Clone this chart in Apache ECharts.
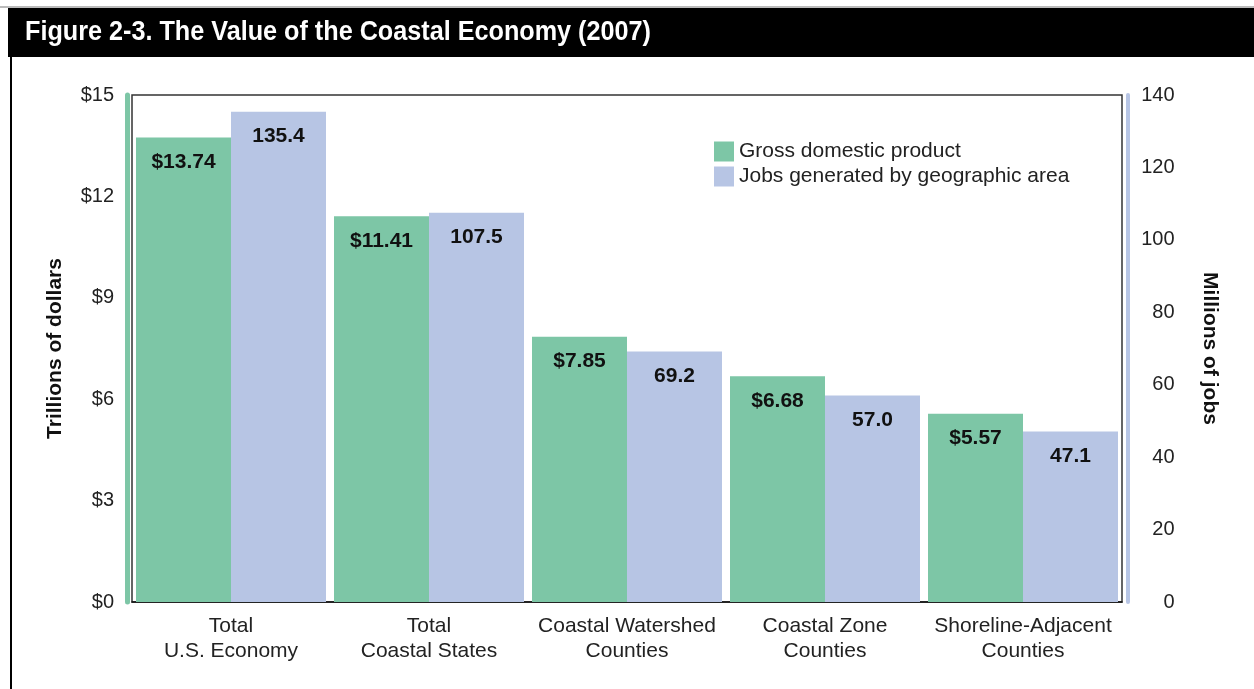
<!DOCTYPE html>
<html>
<head>
<meta charset="utf-8">
<script src="https://cdn.jsdelivr.net/npm/echarts@6/dist/echarts.min.js"></script>
<style>
html,body{margin:0;padding:0;background:#fff;}
#chart{width:1254px;height:689px;}
</style>
</head>
<body>
<div id="chart"></div>
<script>
const titleText = 'Figure 2-3. The Value of the Coastal Economy (2007)';
const categories = ['Total\nU.S. Economy', 'Total\nCoastal States', 'Coastal Watershed\nCounties', 'Coastal Zone\nCounties', 'Shoreline-Adjacent\nCounties'];
const gdpValues = [13.74, 11.41, 7.85, 6.68, 5.57];
const jobsValues = [135.4, 107.5, 69.2, 57.0, 47.1];
const gdpName = 'Gross domestic product';
const jobsName = 'Jobs generated by geographic area';
const leftAxisName = 'Trillions of dollars';
const rightAxisName = 'Millions of jobs';

const FONT = 'Liberation Sans, Arial, sans-serif';
const chart = echarts.init(document.getElementById('chart'));
chart.setOption({
  animation: false,
  textStyle: { fontFamily: FONT },
  graphic: [
    { type: 'rect', shape: { x: 0, y: 6, width: 1254, height: 2 }, style: { fill: '#bbb' } },
    { type: 'rect', shape: { x: 8, y: 8, width: 1246, height: 49 }, style: { fill: '#000' } },
    { type: 'rect', shape: { x: 10, y: 57, width: 2, height: 632 }, style: { fill: '#000' } },
    { type: 'text', x: 25, y: 18, scaleX: 0.9, style: { text: titleText, fill: '#fff', font: 'bold 28px "Liberation Sans", Arial, sans-serif' } }
  ],
  legend: {
    left: 709, top: 136, orient: 'vertical', itemWidth: 20, itemHeight: 20, itemGap: 4, icon: 'rect',
    textStyle: { fontSize: 21, color: '#222', fontFamily: FONT },
    data: [gdpName, jobsName]
  },
  grid: { left: 132, right: 132, top: 95, bottom: 87, show: true, borderColor: '#333', borderWidth: 1.5 },
  xAxis: {
    type: 'category', data: categories,
    axisLine: { lineStyle: { color: '#111', width: 1.5 } },
    axisTick: { show: false },
    axisLabel: { fontSize: 21, color: '#222', lineHeight: 25, margin: 12, interval: 0 }
  },
  yAxis: [
    {
      type: 'value', min: 0, max: 15, interval: 3,
      name: leftAxisName, nameLocation: 'middle', nameRotate: 90, nameGap: 62,
      nameTextStyle: { fontSize: 21, fontWeight: 'bold', color: '#111' },
      axisLine: { show: true, lineStyle: { color: '#7DC6A6', width: 5 } }, offset: 4.5,
      axisTick: { show: false }, splitLine: { show: false },
      axisLabel: { formatter: v => '$' + v, fontSize: 20, color: '#222', margin: 13.5 }
    },
    {
      type: 'value', min: 0, max: 140, interval: 20, position: 'right',
      name: rightAxisName, nameLocation: 'middle', nameRotate: -90, nameGap: 72,
      nameTextStyle: { fontSize: 21, fontWeight: 'bold', color: '#111' },
      axisLine: { show: true, lineStyle: { color: '#B7C5E4', width: 4 } }, offset: 5.5,
      axisTick: { show: false }, splitLine: { show: false },
      axisLabel: { fontSize: 20, color: '#222', margin: 47, align: 'right' }
    }
  ],
  series: [
    {
      name: gdpName, type: 'bar', yAxisIndex: 0, data: gdpValues, barWidth: 95, barGap: '0%',
      itemStyle: { color: '#7DC6A6' },
      label: { show: true, position: 'insideTop', distance: 14, formatter: p => '$' + p.value.toFixed(2), fontSize: 21, fontWeight: 'bold', color: '#111' }
    },
    {
      name: jobsName, type: 'bar', yAxisIndex: 1, data: jobsValues, barWidth: 95,
      itemStyle: { color: '#B7C5E4' },
      label: { show: true, position: 'insideTop', distance: 14, formatter: p => p.value.toFixed(1), fontSize: 21, fontWeight: 'bold', color: '#111' }
    }
  ]
});
</script>
</body>
</html>
